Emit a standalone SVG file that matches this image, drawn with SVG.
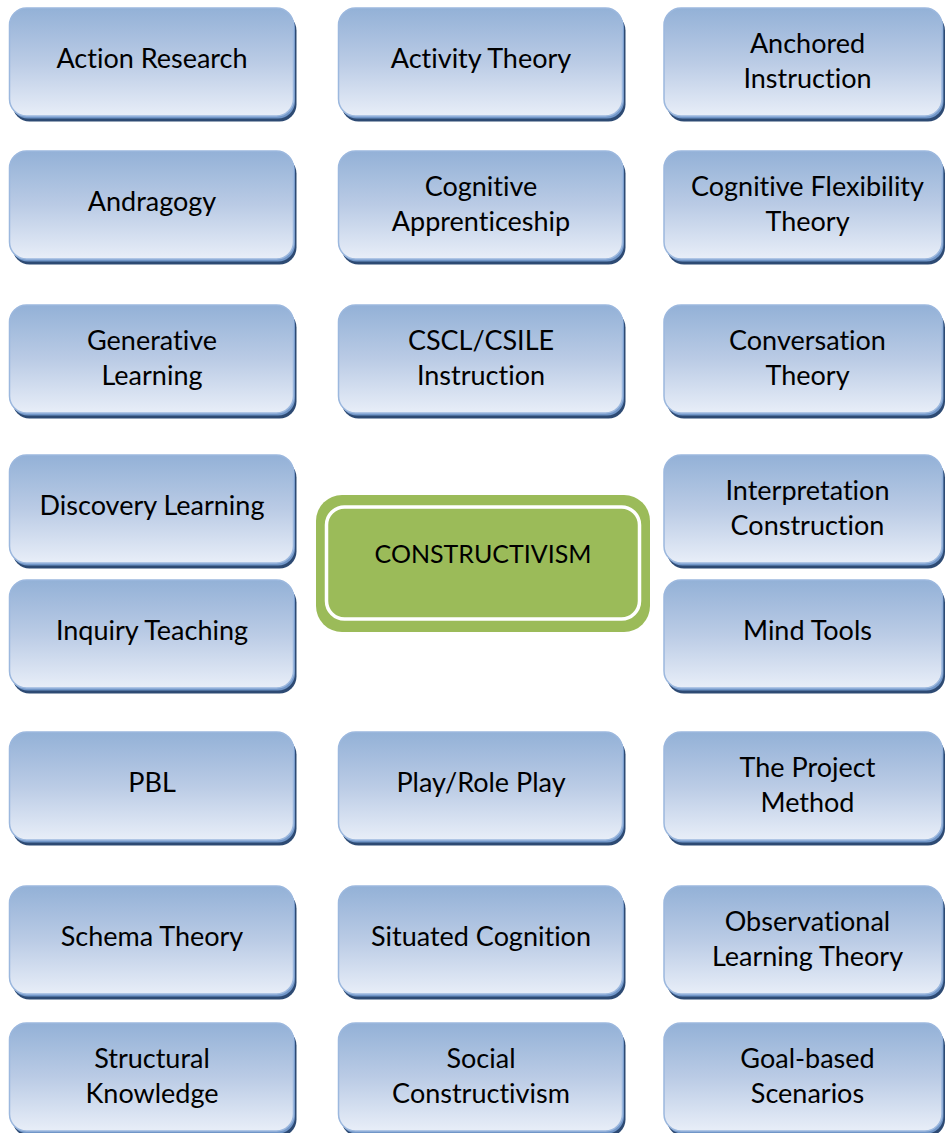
<svg xmlns="http://www.w3.org/2000/svg" xmlns:xlink="http://www.w3.org/1999/xlink" width="946" height="1133" viewBox="0 0 946 1133">
  <style>
    .label { font-family: Lato, "Open Sans", "Liberation Sans", sans-serif; font-size: 27px; fill: #000; text-anchor: middle; font-variant-ligatures: none; font-feature-settings: "liga" 0; }
    .hub { font-size: 25px; }
  </style>
  <defs>
    <linearGradient id="tileFill" x1="0" y1="0" x2="0" y2="1">
      <stop offset="0" stop-color="#93B1D7"/>
      <stop offset="0.5" stop-color="#BACBE5"/>
      <stop offset="1" stop-color="#E8EEF8"/>
    </linearGradient>
    <!-- bevelled blue tile, standard width -->
    <g id="tile">
      <rect x="3" y="5.5" width="284" height="108" rx="17" fill="#2D4A73"/>
      <rect x="1.5" y="2.5" width="284" height="108" rx="17" fill="#7196C8"/>
      <rect x="0" y="0" width="284" height="108" rx="17" fill="url(#tileFill)" stroke="#9CB8DE" stroke-width="1.5"/>
    </g>
    <!-- narrower tile for the right-hand column -->
    <g id="tile-r">
      <rect x="3" y="5.5" width="278" height="108" rx="17" fill="#2D4A73"/>
      <rect x="1.5" y="2.5" width="278" height="108" rx="17" fill="#7196C8"/>
      <rect x="0" y="0" width="278" height="108" rx="17" fill="url(#tileFill)" stroke="#9CB8DE" stroke-width="1.5"/>
    </g>
  </defs>

  <rect width="946" height="1133" fill="#FFFFFF"/>

  <g id="connectors"/>

  <!-- centre node -->
  <g id="constructivism">
    <rect x="316" y="495" width="334" height="137" rx="26" fill="#9BBB59"/>
    <rect x="326.5" y="507" width="313" height="112" rx="18" fill="#9BBB59" stroke="#FFFFFF" stroke-width="3.5"/>
    <text class="label hub" x="483" y="562.5">CONSTRUCTIVISM</text>
  </g>

  <!-- row 1 -->
  <g id="action-research" transform="translate(9.5,8)">
    <use xlink:href="#tile"/>
    <text class="label" x="142.5" y="59.5">Action Research</text>
  </g>
  <g id="activity-theory" transform="translate(338.5,8)">
    <use xlink:href="#tile"/>
    <text class="label" x="142.5" y="59.5">Activity Theory</text>
  </g>
  <g id="anchored-instruction" transform="translate(664,8)">
    <use xlink:href="#tile-r"/>
    <text class="label" x="143.5" y="45">Anchored</text>
    <text class="label" x="143.5" y="80">Instruction</text>
  </g>

  <!-- row 2 -->
  <g id="andragogy" transform="translate(9.5,151)">
    <use xlink:href="#tile"/>
    <text class="label" x="142.5" y="59.5">Andragogy</text>
  </g>
  <g id="cognitive-apprenticeship" transform="translate(338.5,151)">
    <use xlink:href="#tile"/>
    <text class="label" x="142.5" y="45">Cognitive</text>
    <text class="label" x="142.5" y="80">Apprenticeship</text>
  </g>
  <g id="cognitive-flexibility-theory" transform="translate(664,151)">
    <use xlink:href="#tile-r"/>
    <text class="label" x="143.5" y="45">Cognitive Flexibility</text>
    <text class="label" x="143.5" y="80">Theory</text>
  </g>

  <!-- row 3 -->
  <g id="generative-learning" transform="translate(9.5,305)">
    <use xlink:href="#tile"/>
    <text class="label" x="142.5" y="45">Generative</text>
    <text class="label" x="142.5" y="80">Learning</text>
  </g>
  <g id="cscl-csile-instruction" transform="translate(338.5,305)">
    <use xlink:href="#tile"/>
    <text class="label" x="142.5" y="45">CSCL/CSILE</text>
    <text class="label" x="142.5" y="80">Instruction</text>
  </g>
  <g id="conversation-theory" transform="translate(664,305)">
    <use xlink:href="#tile-r"/>
    <text class="label" x="143.5" y="45">Conversation</text>
    <text class="label" x="143.5" y="80">Theory</text>
  </g>

  <!-- row 4 -->
  <g id="discovery-learning" transform="translate(9.5,455)">
    <use xlink:href="#tile"/>
    <text class="label" x="142.5" y="59.5">Discovery Learning</text>
  </g>
  <g id="interpretation-construction" transform="translate(664,455)">
    <use xlink:href="#tile-r"/>
    <text class="label" x="143.5" y="45">Interpretation</text>
    <text class="label" x="143.5" y="80">Construction</text>
  </g>

  <!-- row 5 -->
  <g id="inquiry-teaching" transform="translate(9.5,580)">
    <use xlink:href="#tile"/>
    <text class="label" x="142.5" y="59.5">Inquiry Teaching</text>
  </g>
  <g id="mind-tools" transform="translate(664,580)">
    <use xlink:href="#tile-r"/>
    <text class="label" x="143.5" y="59.5">Mind Tools</text>
  </g>

  <!-- row 6 -->
  <g id="pbl" transform="translate(9.5,732)">
    <use xlink:href="#tile"/>
    <text class="label" x="142.5" y="59.5">PBL</text>
  </g>
  <g id="play-role-play" transform="translate(338.5,732)">
    <use xlink:href="#tile"/>
    <text class="label" x="142.5" y="59.5">Play/Role Play</text>
  </g>
  <g id="project-method" transform="translate(664,732)">
    <use xlink:href="#tile-r"/>
    <text class="label" x="143.5" y="44.5">The Project</text>
    <text class="label" x="143.5" y="79.5">Method</text>
  </g>

  <!-- row 7 -->
  <g id="schema-theory" transform="translate(9.5,886)">
    <use xlink:href="#tile"/>
    <text class="label" x="142.5" y="59.5">Schema Theory</text>
  </g>
  <g id="situated-cognition" transform="translate(338.5,886)">
    <use xlink:href="#tile"/>
    <text class="label" x="142.5" y="59.5">Situated Cognition</text>
  </g>
  <g id="observational-learning-theory" transform="translate(664,886)">
    <use xlink:href="#tile-r"/>
    <text class="label" x="143.5" y="44.5">Observational</text>
    <text class="label" x="143.5" y="79.5">Learning Theory</text>
  </g>

  <!-- row 8 -->
  <g id="structural-knowledge" transform="translate(9.5,1023)">
    <use xlink:href="#tile"/>
    <text class="label" x="142.5" y="44.5">Structural</text>
    <text class="label" x="142.5" y="79.5">Knowledge</text>
  </g>
  <g id="social-constructivism" transform="translate(338.5,1023)">
    <use xlink:href="#tile"/>
    <text class="label" x="142.5" y="44.5">Social</text>
    <text class="label" x="142.5" y="79.5">Constructivism</text>
  </g>
  <g id="goal-based-scenarios" transform="translate(664,1023)">
    <use xlink:href="#tile-r"/>
    <text class="label" x="143.5" y="44.5">Goal-based</text>
    <text class="label" x="143.5" y="79.5">Scenarios</text>
  </g>
</svg>
